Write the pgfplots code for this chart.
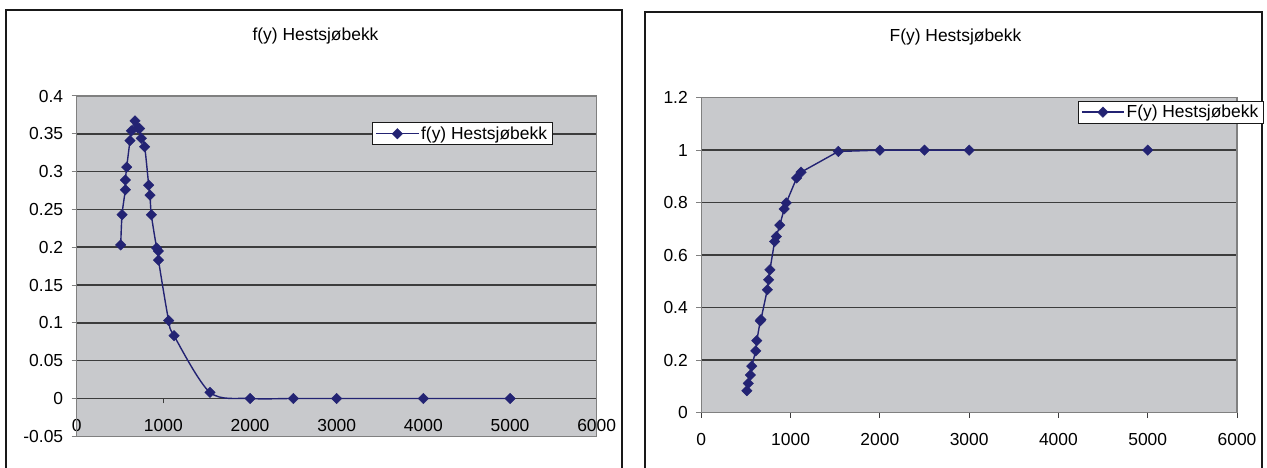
\documentclass[border=0pt]{standalone}
\usepackage{fontspec}
\setmainfont{Liberation Sans}
\usepackage{pgfplots}
\pgfplotsset{compat=1.18}
\definecolor{plotbg}{RGB}{200,201,204}
\definecolor{gridc}{RGB}{60,60,60}
\definecolor{bordc}{RGB}{128,128,128}
\definecolor{navy}{RGB}{35,35,115}
\definecolor{framec}{RGB}{25,25,25}
\newcommand{\chartfont}{\fontsize{17.5}{20}\selectfont}

\pgfplotstableread{
x y
508 0.203
523 0.243
561 0.276
562 0.289
577 0.306
615 0.341
632 0.354
673 0.367
703 0.358
725 0.357
746 0.344
784 0.333
831 0.282
846 0.269
861 0.243
923 0.199
942 0.195
944 0.183
1061 0.103
1123 0.083
1538 0.008
2000 0
2500 0
3000 0
4000 0
5000 0
}\fdata

\pgfplotstableread{
x y
511 0.083
526 0.111
549 0.143
565 0.177
610 0.235
622 0.274
660 0.349
668 0.354
739 0.468
754 0.506
769 0.544
821 0.652
840 0.671
879 0.714
928 0.776
951 0.799
1068 0.894
1117 0.916
1534 0.995
2000 1
2500 1
3000 1
4000 nan
5000 1
}\Fdata

\pgfplotsset{
  chart/.style={
    scale only axis,
    xmin=0, xmax=6000,
    xtick={0,1000,2000,3000,4000,5000,6000},
    axis x line=middle, axis y line=left,
    axis line style={-},
    every inner x axis line/.append style={-},
    every outer y axis line/.append style={-},
    x axis line style={gridc, line width=1.5bp},
    y axis line style={bordc, line width=1.5bp},
    hide obscured x ticks=false,
    hide obscured y ticks=false,
    axis background/.style={fill=plotbg},
    ymajorgrids,
    major grid style={gridc, line width=1.5bp},
    tick align=outside,
    major tick length=5bp,
    xtick style={gridc, line width=1bp},
    ytick style={bordc, line width=1bp},
    ytick pos=left,
    tick label style={font=\chartfont, text=black},
    xticklabel style={yshift=-12bp},
    yticklabel style={xshift=-5bp, /pgf/number format/fixed, /pgf/number format/precision=2},
    /pgf/number format/assume math mode=true,
    /pgf/number format/1000 sep={},
    scaled ticks=false,
    unbounded coords=jump,
    legend style={draw=framec, line width=0.8bp, fill=white, font=\chartfont,
      inner xsep=3bp, inner ysep=2bp},
    legend cell align=left,
    legend image code/.code={\draw[##1, mark repeat=2, mark phase=2]
      plot coordinates {(0bp,0bp) (21bp,0bp) (42bp,0bp)};},
    after end axis/.code={\draw[bordc, line width=1.5bp] (rel axis cs:0,0) rectangle (rel axis cs:1,1);},
  },
  series/.style={color=navy, line width=1.4bp, mark=square*, mark size=3.7bp,
    mark options={rotate=45, fill=navy, draw=navy, line width=0.4bp}},
}

\begin{document}
\begin{tikzpicture}
\useasboundingbox (0,0) rectangle (1267bp,468bp);
\fill[white] (0,0) rectangle (1267bp,468bp);
% chart frames
\draw[framec, line width=1.8bp] (6bp,-5bp) -- (6bp,458bp) -- (621.7bp,458bp) -- (621.7bp,-5bp);
\draw[framec, line width=1.8bp] (645bp,-5bp) -- (645bp,456bp) -- (1261.7bp,456bp) -- (1261.7bp,-5bp);
% titles
\node[font=\chartfont] at (315.5bp,432.5bp) {f(y) Hestsjøbekk};
\node[font=\chartfont] at (955.5bp,431bp) {F(y) Hestsjøbekk};

\begin{axis}[chart,
  at={(76.7bp,31.7bp)}, anchor=south west,
  width=520bp, height=340.3bp,
  ymin=-0.05, ymax=0.4,
  ytick={-0.05,0,0.05,0.1,0.15,0.2,0.25,0.3,0.35,0.4},
  legend style={at={(0.5685,0.9227)}, anchor=north west},
]
\addplot[series, smooth] table[x=x,y=y] {\fdata};
\addlegendentry{f(y) Hestsjøbekk}
\end{axis}

\begin{axis}[chart,
  at={(701.3bp,55.5bp)}, anchor=south west,
  width=535.7bp, height=314.8bp,
  ymin=0, ymax=1.2,
  ytick={0,0.2,0.4,0.6,0.8,1,1.2},
  legend style={at={(0.7028,0.9905)}, anchor=north west},
]
\addplot[series] table[x=x,y=y] {\Fdata};
\addlegendentry{F(y) Hestsjøbekk}
\end{axis}
\end{tikzpicture}
\end{document}
